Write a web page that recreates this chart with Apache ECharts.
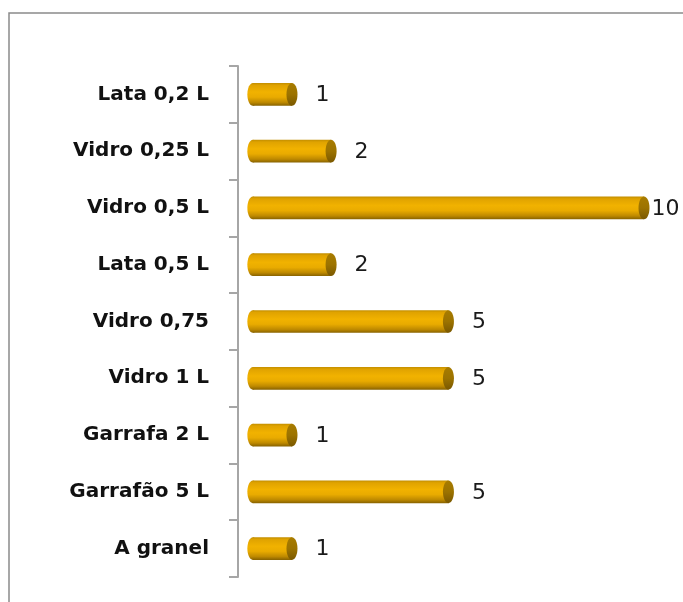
<!DOCTYPE html>
<html>
<head>
<meta charset="utf-8">
<script src="https://cdn.jsdelivr.net/npm/echarts@6/dist/echarts.min.js"></script>
<style>
  html, body { margin: 0; padding: 0; background: #fff; }
  #chart { width: 683px; height: 602px; }
</style>
</head>
<body>
<div id="chart"></div>
<script>
  // categories top to bottom, and counts
  var categories = ['Lata 0,2 L', 'Vidro 0,25 L', 'Vidro 0,5 L', 'Lata 0,5 L', 'Vidro 0,75', 'Vidro 1 L', 'Garrafa 2 L', 'Garrafão 5 L', 'A granel']
  var counts = [1, 2, 10, 2, 5, 5, 1, 5, 1]

  var maxCount = Math.max.apply(null, counts)
  var chart = echarts.init(document.getElementById('chart'))

  // cylinder: body + rounded left end + darker cap at the value end
  function renderItem(params, api) {
    var v = api.value(0)
    var c = api.value(1)
    var p0 = api.coord([0, c])
    var p1 = api.coord([v, c])
    var h = api.size([0, 1])[1] * 0.4
    var rx = 5.5
    var top = p0[1] - h / 2
    var bodyFill = new echarts.graphic.LinearGradient(0, 0, 0, 1, [
      { offset: 0, color: '#C28E00' },
      { offset: 0.1, color: '#E0A300' },
      { offset: 0.4, color: '#F1B200' },
      { offset: 0.62, color: '#E9AB00' },
      { offset: 0.85, color: '#BE8900' },
      { offset: 1, color: '#876200' }
    ])
    var capFill = new echarts.graphic.LinearGradient(0, 0, 0, 1, [
      { offset: 0, color: '#A87C00' },
      { offset: 0.5, color: '#9C7300' },
      { offset: 1, color: '#7A5800' }
    ])
    var off = v === maxCount ? 2 : 18
    return {
      type: 'group',
      children: [
        { type: 'ellipse', shape: { cx: p0[0], cy: p0[1], rx: rx, ry: h / 2 }, style: { fill: bodyFill } },
        { type: 'rect', shape: { x: p0[0], y: top, width: p1[0] - p0[0], height: h }, style: { fill: bodyFill } },
        { type: 'ellipse', shape: { cx: p1[0], cy: p1[1], rx: rx, ry: h / 2 }, style: { fill: capFill } },
        {
          type: 'text',
          style: {
            x: p1[0] + rx + off,
            y: p1[1] + 1,
            text: String(v),
            fill: '#1a1a1a',
            font: '22px "DejaVu Sans"',
            verticalAlign: 'middle'
          }
        }
      ]
    }
  }

  var option = {
    animation: false,
    graphic: [
      {
        type: 'rect',
        shape: { x: 9, y: 13, width: 700, height: 620 },
        style: { fill: 'none', stroke: '#8a8a8a', lineWidth: 1.5 }
      }
    ],
    grid: { left: 238, right: 39, top: 66, bottom: 25 },
    // min below zero leaves the small gap between the axis line and the bars
    xAxis: { type: 'value', min: -0.38, max: 10, show: false },
    yAxis: {
      type: 'category',
      data: categories,
      inverse: true,
      axisLine: { show: true, onZero: false, lineStyle: { color: '#a6a6a6', width: 2 } },
      axisTick: { show: true, length: 9, lineStyle: { color: '#a6a6a6', width: 2 } },
      axisLabel: {
        margin: 29,
        color: '#111',
        fontSize: 20,
        fontWeight: 'bold',
        fontFamily: 'DejaVu Sans'
      },
      splitLine: { show: false }
    },
    series: [
      {
        type: 'custom',
        renderItem: renderItem,
        encode: { x: 0, y: 1 },
        data: counts.map(function (v, i) { return [v, i] })
      }
    ]
  }
  chart.setOption(option)
</script>
</body>
</html>
